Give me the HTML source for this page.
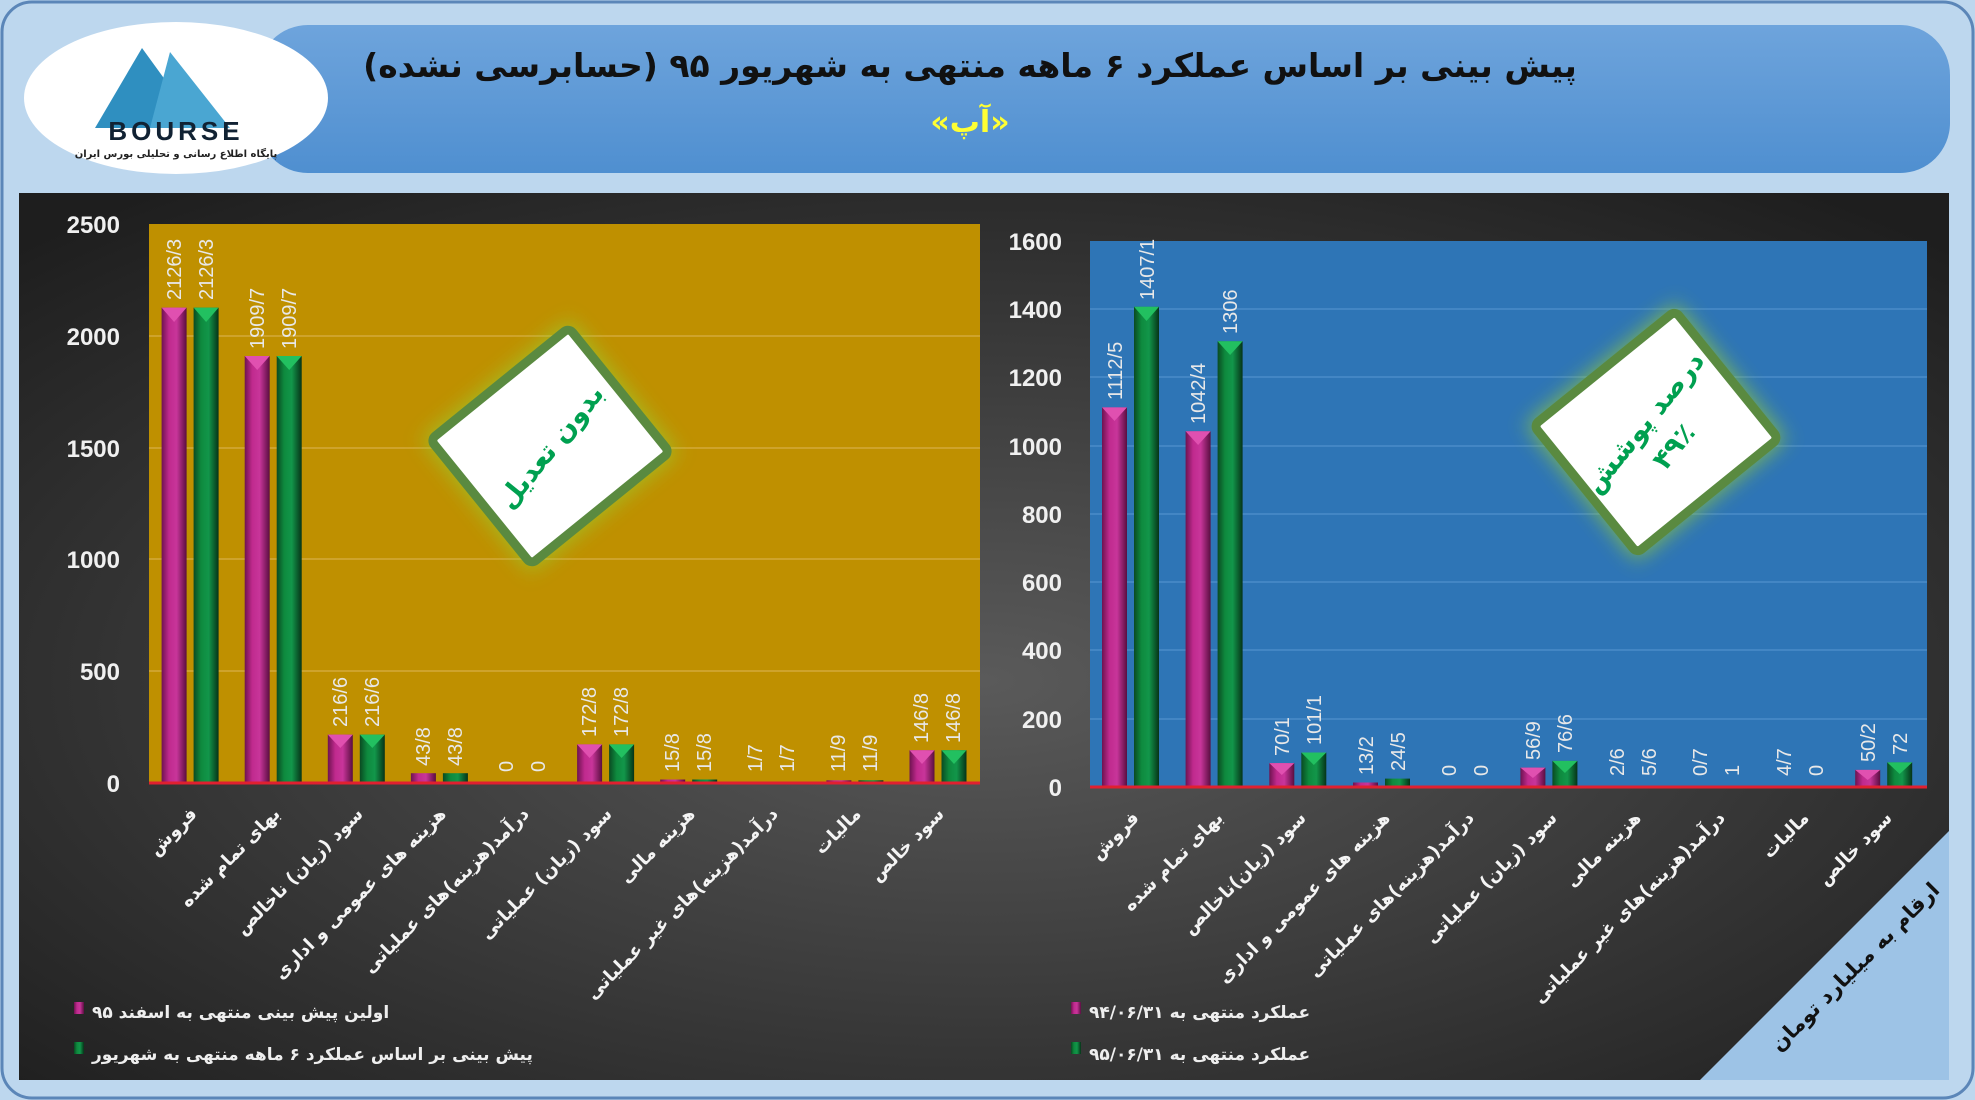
<!DOCTYPE html>
<html><head><meta charset="utf-8"><style>
html,body{margin:0;padding:0;background:#fff}
svg{display:block}
.fa{font-family:"DejaVu Sans",sans-serif;font-weight:bold}
.lt{font-family:"Liberation Sans",sans-serif}
</style></head><body>
<svg width="1975" height="1100" viewBox="0 0 1975 1100" xmlns="http://www.w3.org/2000/svg">
<defs>
<radialGradient id="dk" cx="50%" cy="55%" r="70%"><stop offset="0" stop-color="#5a5a5a"/><stop offset="1" stop-color="#1e1e1e"/></radialGradient>
<linearGradient id="hb" x1="0" y1="0" x2="0" y2="1"><stop offset="0" stop-color="#6ea4dc"/><stop offset="1" stop-color="#4f8fd0"/></linearGradient>
<linearGradient id="mg" x1="0" x2="1"><stop offset="0" stop-color="#6e1350"/><stop offset=".3" stop-color="#c02a8e"/><stop offset=".6" stop-color="#c8359a"/><stop offset="1" stop-color="#5a0e40"/></linearGradient>
<linearGradient id="gr" x1="0" x2="1"><stop offset="0" stop-color="#0a4a22"/><stop offset=".3" stop-color="#0e8a3e"/><stop offset=".6" stop-color="#12964a"/><stop offset="1" stop-color="#063318"/></linearGradient>
<filter id="gl" x="-40%" y="-40%" width="180%" height="180%"><feGaussianBlur stdDeviation="10"/></filter>
</defs>
<rect x="0" y="0" width="1975" height="1100" fill="#bdd7ee"/>
<rect x="2" y="2" width="1971" height="1096" rx="30" fill="#bdd7ee" stroke="#5b86b8" stroke-width="3"/>
<!-- header -->
<rect x="258" y="25" width="1692" height="148" rx="50" fill="url(#hb)"/>
<ellipse cx="176" cy="98" rx="152" ry="76" fill="#fff"/>
<polygon points="142,48 95,128 200,128" fill="#2f8fc0"/>
<polygon points="170,52 230,128 150,128" fill="#4aa6d2"/>
<text x="176" y="140" text-anchor="middle" class="lt" font-size="26" font-weight="bold" fill="#123" letter-spacing="4">BOURSE</text>
<text x="176" y="157" text-anchor="middle" class="fa" font-size="10" fill="#222">پایگاه اطلاع رسانی و تحلیلی بورس ایران</text>
<text x="970" y="77" text-anchor="middle" class="fa" font-size="33" fill="#111">پیش بینی بر اساس عملکرد ۶ ماهه منتهی به شهریور ۹۵ (حسابرسی نشده)</text>
<text x="970" y="132" text-anchor="middle" class="fa" font-size="30" fill="#ffff33">«آپ»</text>
<!-- dark panel -->
<rect x="19" y="193" width="1930" height="887" fill="url(#dk)"/>
<!-- left plot -->
<rect x="149" y="224" width="831" height="559" fill="#bf9000"/>
<g stroke="#d4a93a" stroke-width="1.5"><line x1="149" y1="336" x2="980" y2="336"/><line x1="149" y1="448" x2="980" y2="448"/><line x1="149" y1="559" x2="980" y2="559"/><line x1="149" y1="671" x2="980" y2="671"/></g>
<g class="lt" font-size="24" font-weight="bold" fill="#f0f0f0" text-anchor="end">
<text x="120" y="233">2500</text><text x="120" y="345">2000</text><text x="120" y="457">1500</text><text x="120" y="568">1000</text><text x="120" y="680">500</text><text x="120" y="792">0</text></g>
<g>
<rect x="161.6" y="307.6" width="25" height="475.4" fill="url(#mg)"/><polygon points="161.6,307.6 186.6,307.6 174.1,322" fill="#e050b0"/>
<rect x="193.6" y="307.6" width="25" height="475.4" fill="url(#gr)"/><polygon points="193.6,307.6 218.6,307.6 206.1,322" fill="#22c060"/>
<rect x="244.7" y="356" width="25" height="427" fill="url(#mg)"/><polygon points="244.7,356 269.7,356 257.2,370" fill="#e050b0"/>
<rect x="276.7" y="356" width="25" height="427" fill="url(#gr)"/><polygon points="276.7,356 301.7,356 289.2,370" fill="#22c060"/>
<rect x="327.8" y="734.6" width="25" height="48.4" fill="url(#mg)"/><polygon points="327.8,734.6 352.8,734.6 340.3,748" fill="#e050b0"/>
<rect x="359.8" y="734.6" width="25" height="48.4" fill="url(#gr)"/><polygon points="359.8,734.6 384.8,734.6 372.3,748" fill="#22c060"/>
<rect x="410.9" y="773.2" width="25" height="9.8" fill="url(#mg)"/>
<rect x="442.9" y="773.2" width="25" height="9.8" fill="url(#gr)"/>
<rect x="577.1" y="744.4" width="25" height="38.6" fill="url(#mg)"/><polygon points="577.1,744.4 602.1,744.4 589.6,758" fill="#e050b0"/>
<rect x="609.1" y="744.4" width="25" height="38.6" fill="url(#gr)"/><polygon points="609.1,744.4 634.1,744.4 621.6,758" fill="#22c060"/>
<rect x="660.2" y="779.5" width="25" height="3.5" fill="url(#mg)"/>
<rect x="692.2" y="779.5" width="25" height="3.5" fill="url(#gr)"/>
<rect x="826.4" y="780.3" width="25" height="2.7" fill="url(#mg)"/>
<rect x="858.4" y="780.3" width="25" height="2.7" fill="url(#gr)"/>
<rect x="909.5" y="750.2" width="25" height="32.8" fill="url(#mg)"/><polygon points="909.5,750.2 934.5,750.2 922,764" fill="#e050b0"/>
<rect x="941.5" y="750.2" width="25" height="32.8" fill="url(#gr)"/><polygon points="941.5,750.2 966.5,750.2 954,764" fill="#22c060"/>
</g>
<line x1="149" y1="783" x2="980" y2="783" stroke="#e02030" stroke-width="3"/>
<g class="lt" font-size="20" fill="#e8e8e8">
<text transform="translate(181,300) rotate(-90)">2126/3</text><text transform="translate(213,300) rotate(-90)">2126/3</text>
<text transform="translate(264,349) rotate(-90)">1909/7</text><text transform="translate(296,349) rotate(-90)">1909/7</text>
<text transform="translate(347,727) rotate(-90)">216/6</text><text transform="translate(379,727) rotate(-90)">216/6</text>
<text transform="translate(430,766) rotate(-90)">43/8</text><text transform="translate(462,766) rotate(-90)">43/8</text>
<text transform="translate(513,772) rotate(-90)">0</text><text transform="translate(545,772) rotate(-90)">0</text>
<text transform="translate(596,737) rotate(-90)">172/8</text><text transform="translate(628,737) rotate(-90)">172/8</text>
<text transform="translate(679,772) rotate(-90)">15/8</text><text transform="translate(711,772) rotate(-90)">15/8</text>
<text transform="translate(762,772) rotate(-90)">1/7</text><text transform="translate(794,772) rotate(-90)">1/7</text>
<text transform="translate(845,772) rotate(-90)">11/9</text><text transform="translate(877,772) rotate(-90)">11/9</text>
<text transform="translate(928,743) rotate(-90)">146/8</text><text transform="translate(960,743) rotate(-90)">146/8</text>
</g>
<g class="fa" font-size="18" fill="#f4f4f4" text-anchor="end">
<text transform="translate(198,815) rotate(-45)">فروش</text>
<text transform="translate(281,815) rotate(-45)">بهای تمام شده</text>
<text transform="translate(364,815) rotate(-45)">سود (زیان) ناخالص</text>
<text transform="translate(447,815) rotate(-45)">هزینه های عمومی و اداری</text>
<text transform="translate(530,815) rotate(-45)">درآمد(هزینه)های عملیاتی</text>
<text transform="translate(613,815) rotate(-45)">سود (زیان) عملیاتی</text>
<text transform="translate(696,815) rotate(-45)">هزینه مالی</text>
<text transform="translate(779,815) rotate(-45)">درآمد(هزینه)های غیر عملیاتی</text>
<text transform="translate(862,815) rotate(-45)">مالیات</text>
<text transform="translate(945,815) rotate(-45)">سود خالص</text>
</g>
<!-- left diamond -->
<g transform="translate(550,446) rotate(-39)">
<rect x="-95" y="-86" width="190" height="172" rx="6" fill="#9ad030" opacity=".7" filter="url(#gl)"/>
<rect x="-89" y="-80" width="178" height="160" rx="6" fill="#fff" stroke="#5a8a40" stroke-width="9"/>
<text transform="rotate(-12)" x="0" y="10" text-anchor="middle" class="fa" font-size="27" fill="#00a050">بدون تعدیل</text>
</g>
<!-- left legend -->
<rect x="74" y="1002" width="10" height="12" fill="url(#mg)"/>
<text x="92" y="1018" class="fa" font-size="17" fill="#eee">اولین پیش بینی منتهی به اسفند ۹۵</text>
<rect x="74" y="1042" width="10" height="12" fill="url(#gr)"/>
<text x="92" y="1060" class="fa" font-size="17" fill="#eee">پیش بینی بر اساس عملکرد ۶ ماهه منتهی به شهریور</text>
<!-- right plot -->
<rect x="1090" y="241" width="837" height="546" fill="#2e75b6"/>
<g stroke="#4a8cc8" stroke-width="1.5">
<line x1="1090" y1="309" x2="1927" y2="309"/><line x1="1090" y1="377" x2="1927" y2="377"/><line x1="1090" y1="446" x2="1927" y2="446"/><line x1="1090" y1="514" x2="1927" y2="514"/><line x1="1090" y1="582" x2="1927" y2="582"/><line x1="1090" y1="650" x2="1927" y2="650"/><line x1="1090" y1="719" x2="1927" y2="719"/></g>
<g class="lt" font-size="24" font-weight="bold" fill="#f0f0f0" text-anchor="end">
<text x="1062" y="250">1600</text><text x="1062" y="318">1400</text><text x="1062" y="386">1200</text><text x="1062" y="455">1000</text><text x="1062" y="523">800</text><text x="1062" y="591">600</text><text x="1062" y="659">400</text><text x="1062" y="728">200</text><text x="1062" y="796">0</text></g>
<g>
<rect x="1102" y="407.4" width="25" height="379.6" fill="url(#mg)"/><polygon points="1102,407.4 1127,407.4 1114.5,421" fill="#e050b0"/>
<rect x="1134" y="306.8" width="25" height="480.2" fill="url(#gr)"/><polygon points="1134,306.8 1159,306.8 1146.5,321" fill="#22c060"/>
<rect x="1185.6" y="431.3" width="25" height="355.7" fill="url(#mg)"/><polygon points="1185.6,431.3 1210.6,431.3 1198.1,445" fill="#e050b0"/>
<rect x="1217.6" y="341.3" width="25" height="445.7" fill="url(#gr)"/><polygon points="1217.6,341.3 1242.6,341.3 1230.1,355" fill="#22c060"/>
<rect x="1269.3" y="763.1" width="25" height="23.9" fill="url(#mg)"/><polygon points="1269.3,763.1 1294.3,763.1 1281.8,775" fill="#e050b0"/>
<rect x="1301.3" y="752.5" width="25" height="34.5" fill="url(#gr)"/><polygon points="1301.3,752.5 1326.3,752.5 1313.8,765" fill="#22c060"/>
<rect x="1353" y="782.5" width="25" height="4.5" fill="url(#mg)"/>
<rect x="1385" y="778.6" width="25" height="8.4" fill="url(#gr)"/>
<rect x="1520.4" y="767.6" width="25" height="19.4" fill="url(#mg)"/><polygon points="1520.4,767.6 1545.4,767.6 1532.9,778" fill="#e050b0"/>
<rect x="1552.4" y="760.9" width="25" height="26.1" fill="url(#gr)"/><polygon points="1552.4,760.9 1577.4,760.9 1564.9,773" fill="#22c060"/>
<rect x="1855.2" y="769.9" width="25" height="17.1" fill="url(#mg)"/><polygon points="1855.2,769.9 1880.2,769.9 1867.7,780" fill="#e050b0"/>
<rect x="1887.2" y="762.4" width="25" height="24.6" fill="url(#gr)"/><polygon points="1887.2,762.4 1912.2,762.4 1899.7,774" fill="#22c060"/>
</g>
<line x1="1090" y1="787" x2="1927" y2="787" stroke="#e02030" stroke-width="3"/>
<g class="lt" font-size="20" fill="#e8e8e8">
<text transform="translate(1122,400) rotate(-90)">1112/5</text><text transform="translate(1154,300) rotate(-90)">1407/1</text>
<text transform="translate(1205,424) rotate(-90)">1042/4</text><text transform="translate(1237,334) rotate(-90)">1306</text>
<text transform="translate(1289,756) rotate(-90)">70/1</text><text transform="translate(1321,745) rotate(-90)">101/1</text>
<text transform="translate(1373,775) rotate(-90)">13/2</text><text transform="translate(1405,771) rotate(-90)">24/5</text>
<text transform="translate(1456,776) rotate(-90)">0</text><text transform="translate(1488,776) rotate(-90)">0</text>
<text transform="translate(1540,760) rotate(-90)">56/9</text><text transform="translate(1572,753) rotate(-90)">76/6</text>
<text transform="translate(1624,776) rotate(-90)">2/6</text><text transform="translate(1656,776) rotate(-90)">5/6</text>
<text transform="translate(1707,776) rotate(-90)">0/7</text><text transform="translate(1739,776) rotate(-90)">1</text>
<text transform="translate(1791,776) rotate(-90)">4/7</text><text transform="translate(1823,776) rotate(-90)">0</text>
<text transform="translate(1875,762) rotate(-90)">50/2</text><text transform="translate(1907,755) rotate(-90)">72</text>
</g>
<g class="fa" font-size="18" fill="#f4f4f4" text-anchor="end">
<text transform="translate(1140,819) rotate(-45)">فروش</text>
<text transform="translate(1224,819) rotate(-45)">بهای تمام شده</text>
<text transform="translate(1307,819) rotate(-45)">سود (زیان)ناخالص</text>
<text transform="translate(1391,819) rotate(-45)">هزینه های عمومی و اداری</text>
<text transform="translate(1475,819) rotate(-45)">درآمد(هزینه)های عملیاتی</text>
<text transform="translate(1558,819) rotate(-45)">سود (زیان) عملیاتی</text>
<text transform="translate(1642,819) rotate(-45)">هزینه مالی</text>
<text transform="translate(1726,819) rotate(-45)">درآمد(هزینه)های غیر عملیاتی</text>
<text transform="translate(1810,819) rotate(-45)">مالیات</text>
<text transform="translate(1893,819) rotate(-45)">سود خالص</text>
</g>
<!-- right diamond -->
<g transform="translate(1656,432) rotate(-39)">
<rect x="-97" y="-88" width="194" height="176" rx="6" fill="#9ad030" opacity=".7" filter="url(#gl)"/>
<rect x="-91" y="-82" width="182" height="164" rx="6" fill="#fff" stroke="#5a8a40" stroke-width="9"/>
<g transform="rotate(-12)">
<text x="0" y="-6" text-anchor="middle" class="fa" font-size="27" fill="#00a050">درصد پوشش</text>
<text x="0" y="32" text-anchor="middle" class="fa" font-size="27" fill="#00a050">۴۹٪</text>
</g>
</g>
<!-- right legend -->
<rect x="1071" y="1002" width="10" height="12" fill="url(#mg)"/>
<text x="1089" y="1018" class="fa" font-size="17" fill="#eee">عملکرد منتهی به ۹۴/۰۶/۳۱</text>
<rect x="1071" y="1042" width="10" height="12" fill="url(#gr)"/>
<text x="1089" y="1060" class="fa" font-size="17" fill="#eee">عملکرد منتهی به ۹۵/۰۶/۳۱</text>
<!-- corner -->
<polygon points="1700,1080 1949,831 1949,1080" fill="#9dc3e6"/>
<text transform="translate(1860,972) rotate(-45)" text-anchor="middle" class="fa" font-size="21" fill="#111">ارقام به میلیارد تومان</text>
</svg>
</body></html>
